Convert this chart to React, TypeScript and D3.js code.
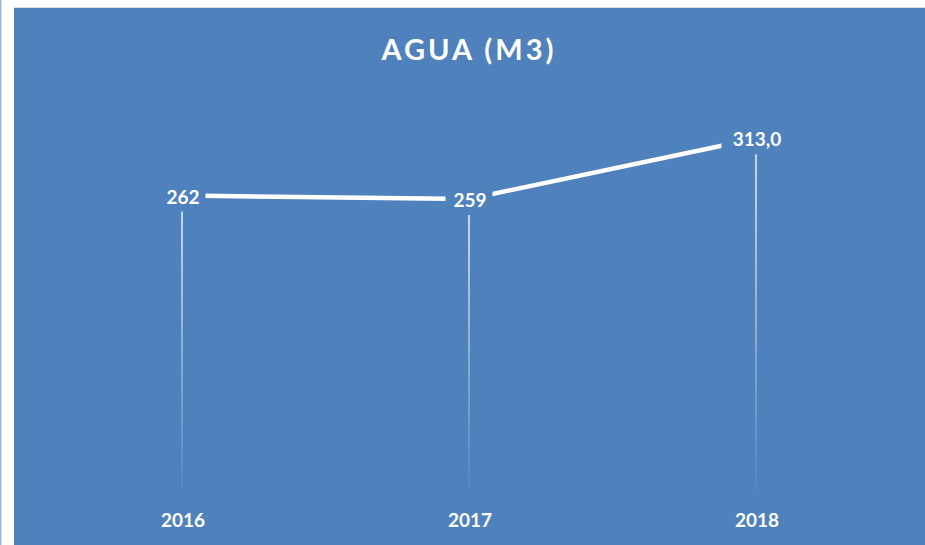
import React from "react";
import * as d3 from "d3";

const categories = ["2016", "2017", "2018"];
const values = [262, 259, 313];
const valueLabels = ["262", "259", "313,0"];
const title = "AGUA (M3)";

const W = 925;
const H = 545;
const BG = "#4F81BD";

export default function App() {
  const x = d3.scalePoint<string>().domain(categories).range([38.5, 899.5]).padding(0.5);
  const y = d3.scaleLinear().domain([0, 350]).range([489, 97]);
  const pts = categories.map((c, i) => [x(c) as number, y(values[i])] as [number, number]);
  const line = d3.line();
  const font = "Lato, 'Open Sans', sans-serif";

  return (
    <div style={{ position: "absolute", left: 0, top: 0 }}>
      <svg width={W} height={H} style={{ display: "block" }}>
        <defs>
          <linearGradient id="drop" x1="0" y1="0" x2="0" y2="1">
            <stop offset="0" stopColor="#ffffff" stopOpacity={0.95} />
            <stop offset="1" stopColor="#ffffff" stopOpacity={0.05} />
          </linearGradient>
        </defs>
        <rect x={0} y={0} width={W} height={H} fill="#ffffff" />
        <rect x={0} y={0} width={1.5} height={H} fill="#9fb6d8" />
        <rect x={14} y={7} width={W - 14} height={H - 7} fill="#d9dfe8" />
        <rect x={14} y={8} width={W - 14} height={H - 8} fill={BG} />
        <text x={469} y={60} textAnchor="middle" fill="#ffffff" fontFamily={font}
          fontWeight={700} fontSize={29} letterSpacing={3}>{title}</text>
        {pts.map((p, i) => (
          <rect key={"d" + i} x={p[0] - 0.75} y={p[1]} width={1.5} height={y(0) - p[1]} fill="url(#drop)" />
        ))}
        <path d={line(pts) || ""} fill="none" stroke="#ffffff" strokeWidth={4.5} strokeLinecap="butt" />
        {pts.map((p, i) => {
          const w = valueLabels[i].length * 11 + 14;
          return (
            <g key={"l" + i}>
              <rect x={p[0] - w / 2} y={p[1] - 14} width={w} height={30} fill={BG} />
              <text x={p[0] + 1} y={p[1] + 8} textAnchor="middle" fill="#ffffff" fontFamily={font}
                fontWeight={700} fontSize={19}>{valueLabels[i]}</text>
            </g>
          );
        })}
        {categories.map((c) => (
          <text key={c} x={(x(c) as number) + 1} y={527} textAnchor="middle" fill="#ffffff"
            fontFamily={font} fontWeight={700} fontSize={19}>{c}</text>
        ))}
      </svg>
    </div>
  );
}
